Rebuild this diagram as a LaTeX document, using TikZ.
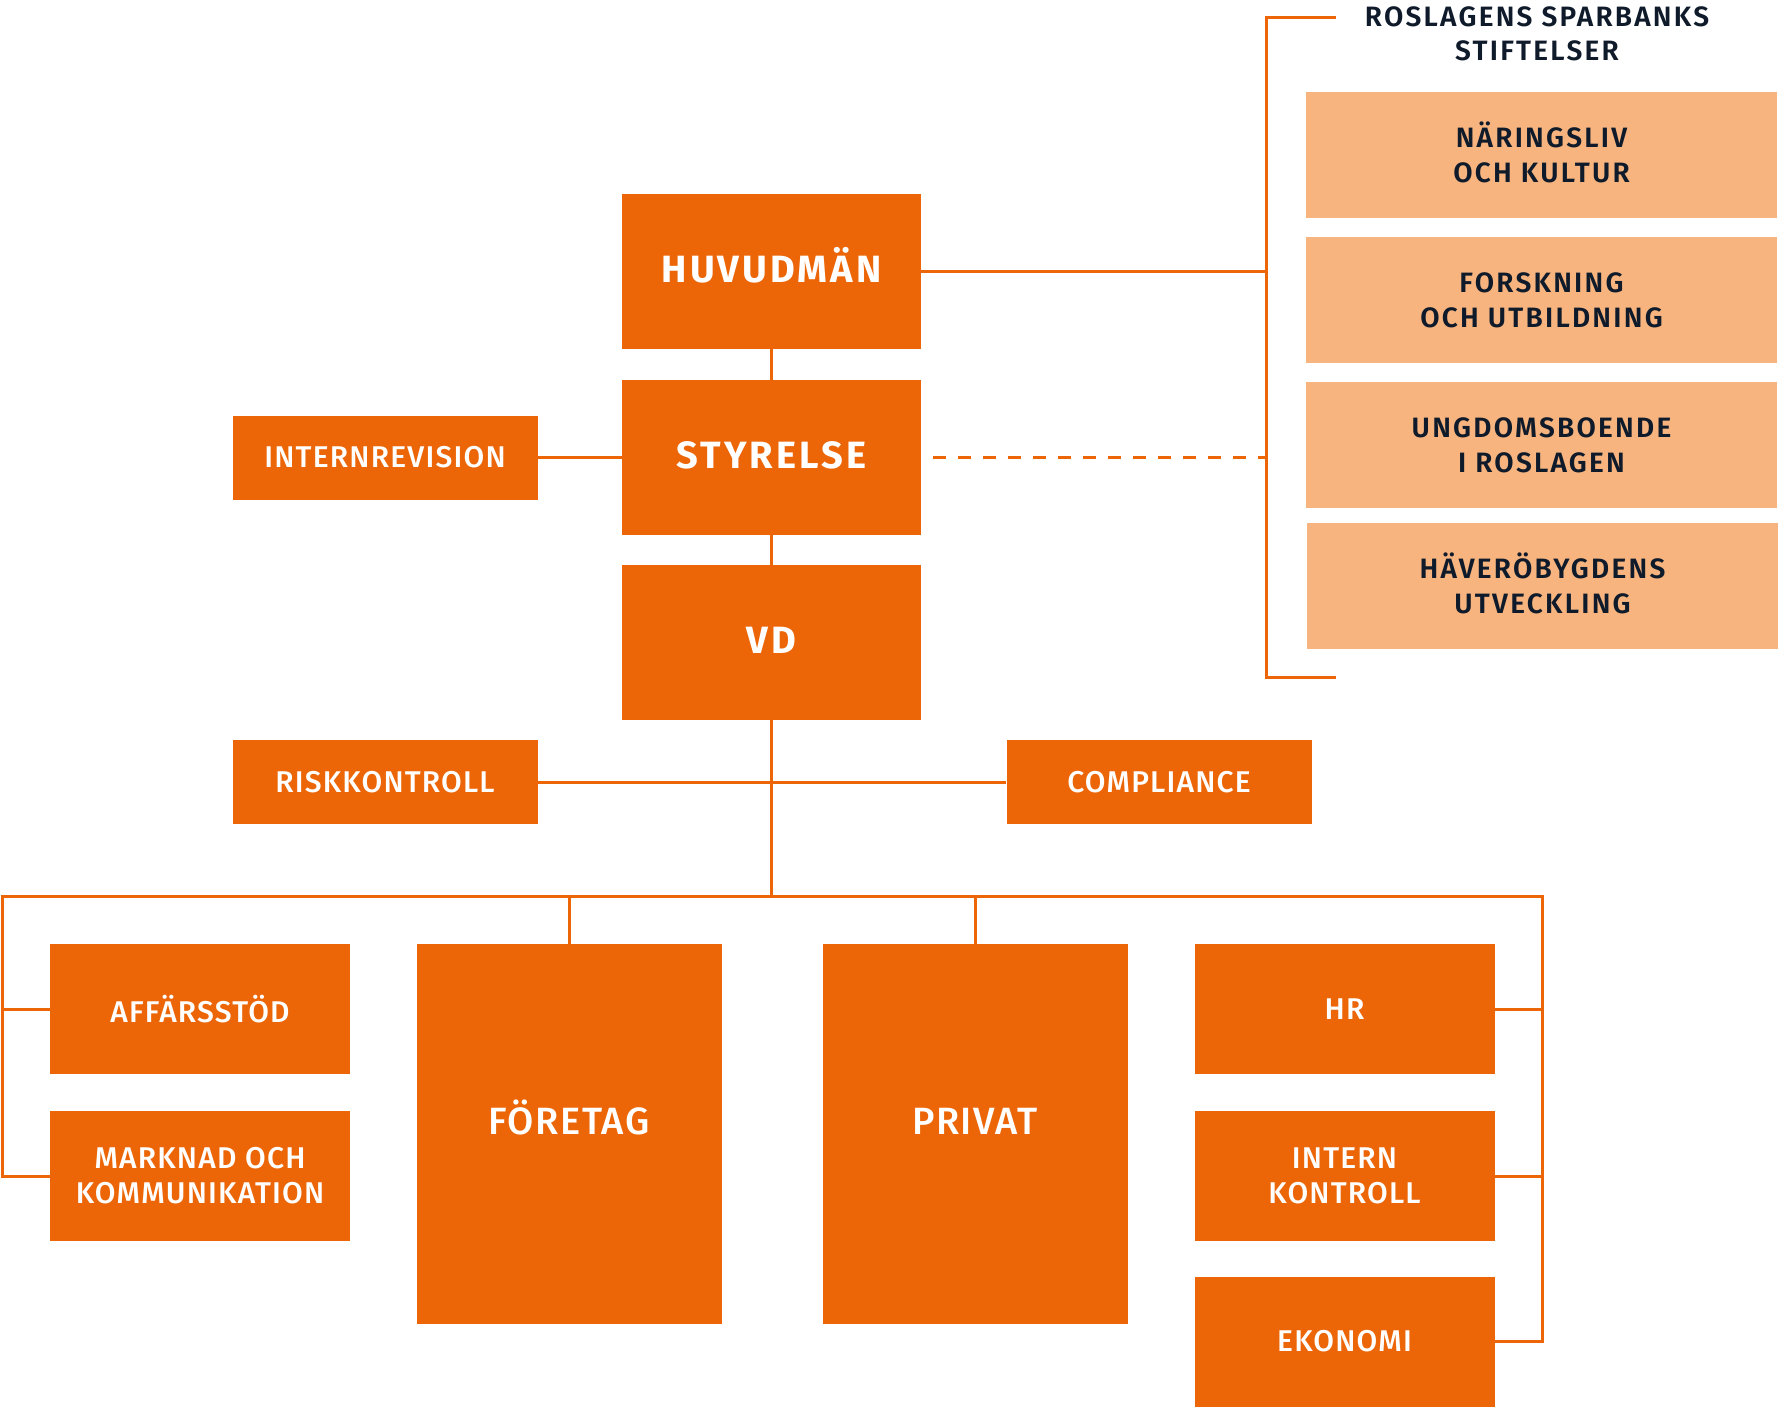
\documentclass[tikz,border=0pt]{standalone}
\usepackage{fontspec}
\setsansfont{Fira Sans}
\newfontfamily\orgfont[LetterSpace=4]{Fira Sans Medium}
\newfontfamily\headfont[LetterSpace=8]{Fira Sans}
\newfontfamily\fundfont[LetterSpace=8]{Fira Sans SemiBold}
\definecolor{Brand}{HTML}{EC6608}
\definecolor{BrandLight}{HTML}{F7B47F}
\definecolor{Navy}{HTML}{0F1B2B}

\begin{document}
\begin{tikzpicture}[x=1pt,y=-1pt,
  unit/.style={rectangle,fill=Brand,text=white,inner sep=0pt,align=center,
    font=\orgfont\fontsize{30}{35}\selectfont},
  topunit/.style={unit,minimum width=299pt,minimum height=155pt,
    text height=26pt,text depth=5pt,font=\headfont\bfseries\fontsize{38}{44}\selectfont},
  sideunit/.style={unit,minimum width=305pt,minimum height=84pt},
  staffunit/.style={unit,minimum width=300pt,minimum height=130pt},
  areaunit/.style={unit,minimum width=305pt,minimum height=380pt,
    text height=26pt,text depth=26pt,font=\orgfont\fontsize{38}{44}\selectfont},
  fund/.style={rectangle,fill=BrandLight,text=Navy,inner sep=0pt,align=center,
    minimum width=471pt,minimum height=126pt,text height=54pt,text depth=0pt,
    font=\fundfont\fontsize{28}{35}\selectfont},
  fundtitle/.style={text=Navy,inner sep=0pt,align=center,
    text height=53pt,text depth=0pt,font=\fundfont\fontsize{28}{34}\selectfont},
  link/.style={draw=Brand,line width=3pt}]
\useasboundingbox (0,0) rectangle (1779,1409);

% ledning
\node[topunit] (huvud) at (771.5,271.5) {HUVUDMÄN};
\node[topunit] (styr) at (771.5,457.5) {STYRELSE};
\node[topunit] (vd) at (771.5,642.5) {VD};
\node[sideunit] (intrev) at (385,457.5) {INTERNREVISION};
\node[sideunit] (risk) at (385,782) {RISKKONTROLL};
\node[sideunit] (compl) at (1159,782) {COMPLIANCE};

% verksamhet
\node[staffunit] (aff) at (200,1009) {AFFÄRSSTÖD};
\node[staffunit] (mark) at (200,1176) {MARKNAD OCH\\KOMMUNIKATION};
\node[areaunit] (foretag) at (569,1134) {FÖRETAG};
\node[areaunit] (privat) at (975,1134) {PRIVAT};
\node[staffunit] (hr) at (1344.5,1009) {HR};
\node[staffunit] (intk) at (1344.5,1176) {INTERN\\KONTROLL};
\node[staffunit] (ekon) at (1344.5,1341.5) {EKONOMI};

% stiftelser
\node[fundtitle] (fundhead) at (1537,34) {ROSLAGENS SPARBANKS\\STIFTELSER};
\node[fund] (fund1) at (1541.5,155) {NÄRINGSLIV\\OCH KULTUR};
\node[fund] (fund2) at (1541.5,300) {FORSKNING\\OCH UTBILDNING};
\node[fund] (fund3) at (1541.5,445) {UNGDOMSBOENDE\\I ROSLAGEN};
\node[fund] (fund4) at (1542.5,586) {HÄVERÖBYGDENS\\UTVECKLING};

\coordinate (busL) at (2.3,896);
\coordinate (busR) at (1542,896);
\coordinate (brT) at (1266,17);
\coordinate (brB) at (1266,677);
\coordinate (brTend) at (1336,17);
\coordinate (brBend) at (1336,677);

\draw[link] (huvud) -- (styr);
\draw[link] (styr) -- (vd);
\draw[link] (intrev) -- (styr);
\draw[link] (risk) -- (compl);
\draw[link] (vd) -- (vd |- busL);
\draw[link] (mark.west) -| (busL) -- (busR) |- (ekon.east);
\draw[link] (aff.west) -- (aff.west -| busL);
\draw[link] (foretag) -- (foretag |- busL);
\draw[link] (privat) -- (privat |- busL);
\draw[link] (hr.east) -- (hr.east -| busR);
\draw[link] (intk.east) -- (intk.east -| busR);

\draw[link] (brTend) -- (brT) -- (brB) -- (brBend);
\draw[link] (huvud) -- (huvud -| brT);
\draw[link,dash pattern=on 13pt off 12pt] ([xshift=12pt]styr.east) -- (styr -| brT);
\end{tikzpicture}
\end{document}
